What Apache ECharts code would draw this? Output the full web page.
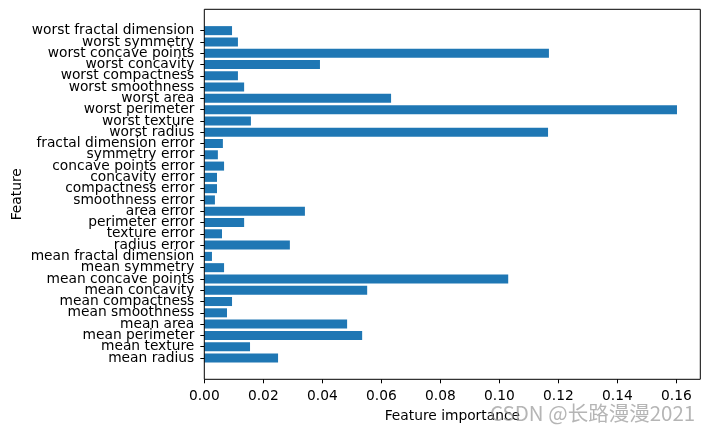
<!DOCTYPE html>
<html><head><meta charset="utf-8">
<script src="https://cdn.jsdelivr.net/npm/echarts@6/dist/echarts.min.js"></script>
<style>html,body{margin:0;padding:0;background:#fff}#c{width:710px;height:432px}</style>
</head><body><div id="c"></div>
<script>
const categories = ["mean radius","mean texture","mean perimeter","mean area","mean smoothness","mean compactness","mean concavity","mean concave points","mean symmetry","mean fractal dimension","radius error","texture error","perimeter error","area error","smoothness error","compactness error","concavity error","concave points error","symmetry error","fractal dimension error","worst radius","worst texture","worst perimeter","worst area","worst smoothness","worst compactness","worst concavity","worst concave points","worst symmetry","worst fractal dimension"];
const importance = [0.0250,0.0155,0.0535,0.0484,0.0077,0.0094,0.0552,0.1030,0.0067,0.0026,0.0290,0.0060,0.0135,0.0341,0.0036,0.0043,0.0043,0.0067,0.0046,0.0063,0.1165,0.0158,0.1602,0.0633,0.0135,0.0114,0.0392,0.1168,0.0114,0.0094];
const xTicks = [0,0.02,0.04,0.06,0.08,0.10,0.12,0.14,0.16];

const FONT = 'DejaVu Sans';
const FS = 13.8;
const plotL = 204.3, plotR = 700.3, plotT = 9.3, plotB = 379.3;
const unitPx = (plotB - plotT) / 32.78;
const pad = 1.39 * unitPx;

const chart = echarts.init(document.getElementById('c'));
chart.setOption({
  animation: false,
  grid: {left: plotL, right: 710 - plotR, top: plotT + pad, bottom: 432 - plotB + pad, containLabel: false, outerBoundsMode: 'none'},
  xAxis: {
    type: 'value', min: 0, max: 0.1681, offset: pad,
    axisLine: {show: false},
    splitLine: {show: false},
    axisTick: {show: true, length: 4, lineStyle: {color: '#000', width: 1}, customValues: xTicks},
    axisLabel: {customValues: xTicks, formatter: v => v.toFixed(2), color: '#000', fontFamily: FONT, fontSize: FS, margin: 10},
    name: 'Feature importance', nameLocation: 'middle', nameGap: 30,
    nameTextStyle: {color: '#000', fontFamily: FONT, fontSize: FS}
  },
  yAxis: {
    type: 'category', data: categories,
    axisLine: {show: false},
    axisTick: {show: true, alignWithLabel: true, length: 4, lineStyle: {color: '#000', width: 1}},
    axisLabel: {interval: 0, color: '#000', fontFamily: FONT, fontSize: FS, margin: 10}
  },
  series: [{type: 'bar', data: importance, barWidth: '80%', itemStyle: {color: '#1f77b4'}}],
  graphic: [
    {type: 'rect', silent: true, z: 100, shape: {x: plotL, y: plotT, width: plotR - plotL, height: plotB - plotT},
     style: {fill: 'none', stroke: '#000', lineWidth: 1}},
    {type: 'text', silent: true, z: 101, x: 17.5, y: (plotT + plotB) / 2, rotation: Math.PI / 2,
     style: {text: 'Feature', fill: '#000', font: FS + 'px "' + FONT + '"', align: 'center', verticalAlign: 'middle'}},
    {type: 'text', silent: true, z: 101, left: 490, top: 403,
     style: {text: 'CSDN @长路漫漫2021', fill: 'rgba(150,150,150,0.7)', font: '20.5px "Noto Sans CJK SC", sans-serif'}}
  ]
});
</script></body></html>
